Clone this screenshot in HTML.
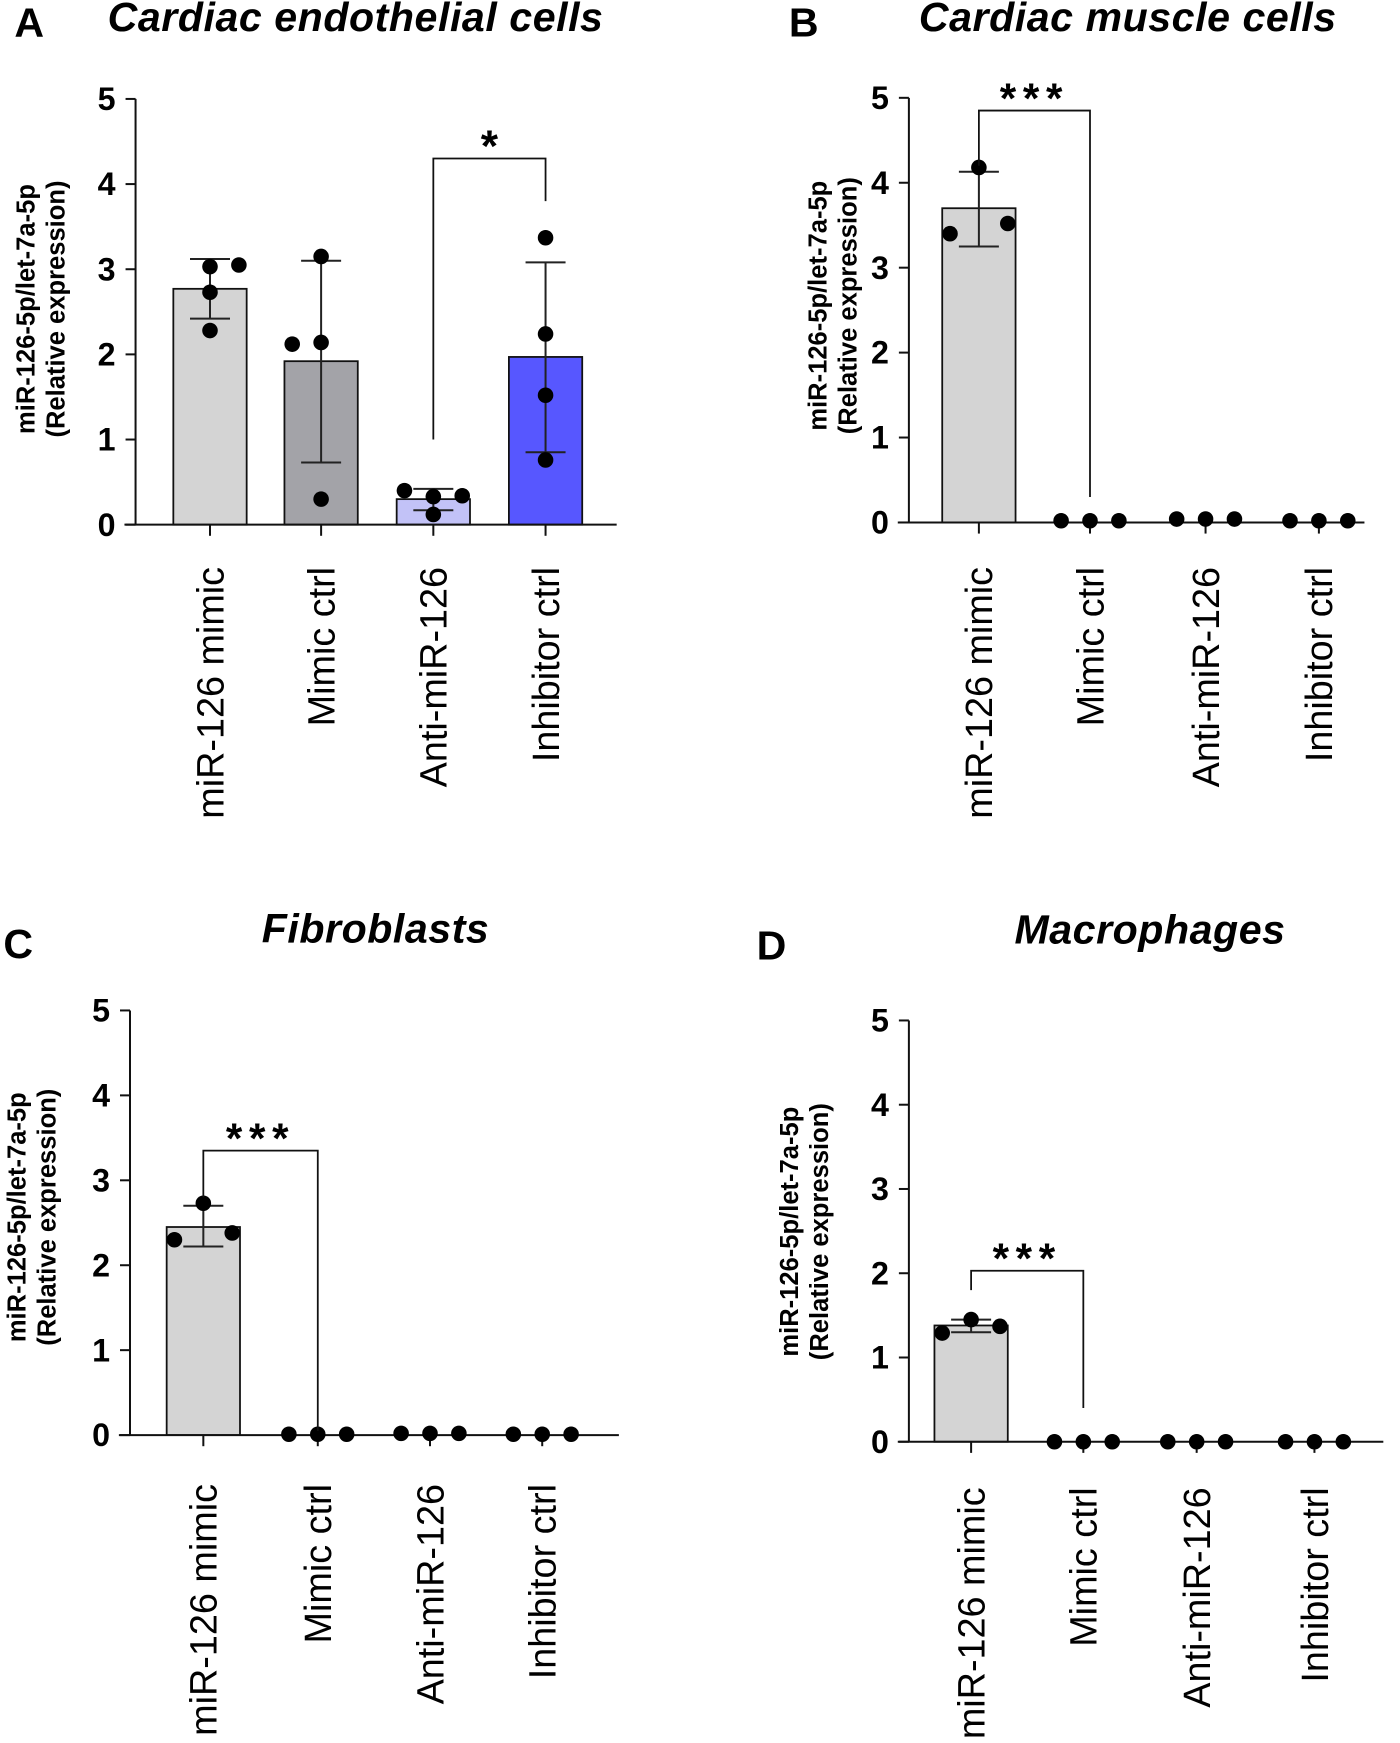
<!DOCTYPE html>
<html><head><meta charset="utf-8">
<style>
html,body{margin:0;padding:0;background:#fff;}
svg{display:block;font-family:"Liberation Sans",Arial,sans-serif;}
</style></head>
<body>
<svg id="fig" width="1400" height="1743" viewBox="0 0 1260 1568" preserveAspectRatio="none" xmlns="http://www.w3.org/2000/svg"></svg>
<script>
// ---- data ----
const categories = ["miR-126 mimic","Mimic ctrl","Anti-miR-126","Inhibitor ctrl"];
const yTicks = [0,1,2,3,4,5];
const colorsA = ["#d4d4d4","#a3a3a8","#c2c2f7","#5757ff"];
const colorsOther = ["#d4d4d4","#d4d4d4","#d4d4d4","#d4d4d4"];
// Panel A
const meansA = [2.77,1.92,0.30,1.97];
const errLoA = [2.42,0.73,0.17,0.85];
const errHiA = [3.12,3.10,0.42,3.08];
const pointsA = [[3.03,3.05,2.73,2.28],[2.12,2.14,3.15,0.30],[0.40,0.33,0.34,0.12],[3.37,2.24,1.52,0.76]];
const offsetsA = [[0,1,0,0],[-1,0,0,0],[-1,0,1,0],[0,0,0,0]];
// Panel B
const meansB = [3.70,0,0,0];
const errLoB = [3.25,0,0,0];
const errHiB = [4.13,0,0,0];
const pointsB = [[3.40,4.18,3.52],[0.02,0.02,0.02],[0.04,0.04,0.04],[0.02,0.02,0.02]];
// Panel C
const meansC = [2.45,0,0,0];
const errLoC = [2.22,0,0,0];
const errHiC = [2.70,0,0,0];
const pointsC = [[2.30,2.73,2.38],[0.01,0.01,0.01],[0.02,0.02,0.02],[0.01,0.01,0.01]];
// Panel D
const meansD = [1.38,0,0,0];
const errLoD = [1.30,0,0,0];
const errHiD = [1.45,0,0,0];
const pointsD = [[1.29,1.45,1.37],[0,0,0],[0,0,0],[0,0,0]];

const NS="http://www.w3.org/2000/svg";
const svg=document.getElementById('fig');
function mk(tag,attrs,parent){const e=document.createElementNS(NS,tag);for(const k in attrs)e.setAttribute(k,attrs[k]);(parent||svg).appendChild(e);return e;}

function panel(cfg){
  const g=mk('g',{});
  
  
  const y=v=>cfg.y0-(cfg.y0-cfg.y5)*v/5;
  const x=i=>cfg.centers[i];
  const L=mk('text',{x:cfg.letterX,y:cfg.letterY,'font-size':37,'font-weight':'bold'},g);L.textContent=cfg.letter;
  
  
  const T=mk('text',{x:cfg.titleX,y:cfg.titleY,'font-size':37,'font-weight':'bold','font-style':'italic','text-anchor':'middle','letter-spacing':0.5},g);T.textContent=cfg.title;
  
  
  const yt=mk('text',{transform:`translate(${cfg.ytX},${cfg.ytY}) rotate(-90)`,'font-size':23,'font-weight':'bold','text-anchor':'middle'},g);
  
  
  const t1=mk('tspan',{x:0,dy:0},yt);t1.textContent="miR-126-5p/let-7a-5p";
  const t2=mk('tspan',{x:0,dy:27},yt);t2.textContent="(Relative expression)";
  cfg.means.forEach((m,i)=>{
    if(m<=0)return;
    const r=mk('rect',{x:x(i)-33,y:y(m),width:66,height:y(0)-y(m),fill:cfg.colors[i],stroke:'#111','stroke-width':1.6},g);
    
    
  });
  const ya=mk('line',{x1:cfg.axisX,y1:cfg.y5,x2:cfg.axisX,y2:y(0),stroke:'#111','stroke-width':1.8},g);
  
  
  const xa=mk('line',{x1:cfg.axisX-10,y1:y(0),x2:cfg.xEnd,y2:y(0),stroke:'#111','stroke-width':1.8},g);
  
  
  yTicks.forEach(v=>{
    mk('line',{x1:cfg.axisX-9,y1:y(v),x2:cfg.axisX,y2:y(v),stroke:'#111','stroke-width':1.8},g);
    const tl=mk('text',{x:cfg.axisX-18,y:y(v)+10,'font-size':29,'font-weight':'bold','text-anchor':'end'},g);
    tl.textContent=v;
    
    
  });
  categories.forEach((c,i)=>{
    mk('line',{x1:x(i),y1:y(0),x2:x(i),y2:y(0)+10,stroke:'#111','stroke-width':1.8},g);
    const xl=mk('text',{transform:`translate(${x(i)+12},${cfg.labTop}) rotate(-90)`,'font-size':34,'text-anchor':'end'},g);
    xl.textContent=c;
    
    
  });
  cfg.means.forEach((m,i)=>{
    if(cfg.hi[i]<=0)return;
    mk('line',{x1:x(i),y1:y(cfg.lo[i]),x2:x(i),y2:y(cfg.hi[i]),stroke:'#222','stroke-width':1.8},g);
    mk('line',{x1:x(i)-18,y1:y(cfg.lo[i]),x2:x(i)+18,y2:y(cfg.lo[i]),stroke:'#222','stroke-width':1.8},g);
    mk('line',{x1:x(i)-18,y1:y(cfg.hi[i]),x2:x(i)+18,y2:y(cfg.hi[i]),stroke:'#222','stroke-width':1.8},g);
  });
  cfg.points.forEach((arr,i)=>{
    arr.forEach((v,j)=>{
      const off=cfg.offsets?cfg.offsets[i][j]:(j-1);
      const p=mk('circle',{cx:x(i)+off*26,cy:y(v),r:7,fill:'#000'},g);
      
      
    });
  });
  const b=cfg.br;
  const br=mk('polyline',{points:`${x(b.i)},${y(b.lv)} ${x(b.i)},${y(b.top)} ${x(b.j)},${y(b.top)} ${x(b.j)},${y(b.rv)}`,fill:'none',stroke:'#111','stroke-width':1.6},g);
  
  
  const st=mk('text',{x:(x(b.i)+x(b.j))/2,y:y(b.top)+b.dy,'font-size':b.size,'font-weight':'bold','text-anchor':'middle','letter-spacing':b.ls},g);
  st.textContent=b.label;
  
  
}

panel({name:'panel-a',letter:'A',letterX:13,letterY:33,title:'Cardiac endothelial cells',titleX:320,titleY:28,
  ytX:31,ytY:278,axisX:122,y0:472,y5:89,xEnd:555,centers:[189,289,390,491],labTop:510,
  means:meansA,lo:errLoA,hi:errHiA,points:pointsA,offsets:offsetsA,colors:colorsA,
  br:{i:2,j:3,lv:1.0,rv:3.8,top:4.3,label:'*',size:40,ls:0,dy:2}});
panel({name:'panel-b',letter:'B',letterX:710,letterY:33,title:'Cardiac muscle cells',titleX:1015,titleY:28,
  ytX:744,ytY:275,axisX:818,y0:470,y5:88,xEnd:1228,centers:[881,981,1085,1187],labTop:510,
  means:meansB,lo:errLoB,hi:errHiB,points:pointsB,colors:colorsOther,
  br:{i:0,j:1,lv:4.2,rv:0.3,top:4.85,label:'***',size:38,ls:6,dy:2}});
panel({name:'panel-c',letter:'C',letterX:3,letterY:862,title:'Fibroblasts',titleX:338,titleY:848,
  ytX:23,ytY:1095,axisX:117,y0:1291,y5:909,xEnd:557,centers:[183,286,387,488],labTop:1335,
  means:meansC,lo:errLoC,hi:errHiC,points:pointsC,colors:colorsOther,
  br:{i:0,j:1,lv:2.8,rv:0.05,top:3.35,label:'***',size:38,ls:6,dy:2}});
panel({name:'panel-d',letter:'D',letterX:681,letterY:863,title:'Macrophages',titleX:1035,titleY:849,
  ytX:718,ytY:1108,axisX:818,y0:1297,y5:918,xEnd:1245,centers:[874,975,1077,1183],labTop:1338,
  means:meansD,lo:errLoD,hi:errHiD,points:pointsD,colors:colorsOther,
  br:{i:0,j:1,lv:1.8,rv:0.4,top:2.03,label:'***',size:38,ls:6,dy:2}});
</script>
</body></html>
